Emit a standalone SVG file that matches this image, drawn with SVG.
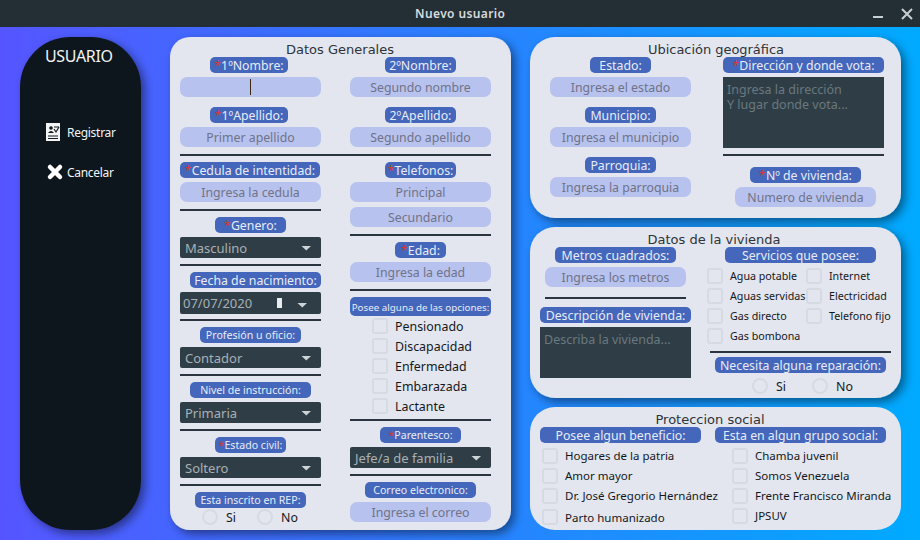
<svg xmlns="http://www.w3.org/2000/svg" width="920" height="540" viewBox="0 0 920 540">
<style>
text{font-family:"Noto Sans","Liberation Sans",sans-serif;font-size:13px}
.lb{fill:#4466bb}
.lt{fill:#e8ecf8;text-anchor:middle;font-size:12.3px}
.ls{fill:#e8ecf8;text-anchor:middle;font-size:10.6px}
.in{fill:#b8c2ee}
.ph{fill:#6f7388;text-anchor:middle;font-size:12.3px}
.sel{fill:#2f3e46}
.st{fill:#a9b0b5;font-size:13px}
.ln{stroke:#2b3540;stroke-width:2}
.cb{fill:none;stroke:#d5dae3;stroke-width:2}
.ct{fill:#14181c;font-size:12.4px}
.c2{fill:#14181c;font-size:11.5px}
.cs{fill:#14181c;font-size:10.7px}
.ttl{fill:#2e3338;text-anchor:middle;font-family:"DejaVu Sans",sans-serif;font-size:13px}
.card{fill:#e3e6ef}
.ar{fill:#cdd3d6}
.star{fill:#d9382f}
.tph{fill:#6a787f;font-size:12.5px}
</style>
<defs>
<linearGradient id="bg" x1="0" y1="0" x2="1" y2="0"><stop offset="0" stop-color="#5555ff"/><stop offset="1" stop-color="#00aaff"/></linearGradient>
<filter id="sh" x="-20%" y="-20%" width="140%" height="140%"><feDropShadow dx="4" dy="4" stdDeviation="5" flood-color="#000" flood-opacity=".45"/></filter>
<path id="tri" d="M0 0h9.500l-4.750 4.500z" class="ar"/>
</defs>
<rect width="920" height="540" fill="url(#bg)"/>
<rect width="920" height="27" fill="#242e35"/>
<text x="460" y="18" text-anchor="middle" fill="#d6dbde" style="font-size:12px;font-weight:600" textLength="90">Nuevo usuario</text>
<path d="M873 17h10" stroke="#c8cfd3" stroke-width="2"/>
<path d="M902 9l10 10M912 9l-10 10" stroke="#c8cfd3" stroke-width="2"/>

<g id="sidebar">
<rect x="20" y="37" width="121" height="493" rx="50" ry="50" fill="#11191e" filter="url(#sh)"/>
<text x="79" y="62" text-anchor="middle" fill="#f2f4f6" style="font-size:16px" textLength="68">USUARIO</text>
<g id="registrar">
<path d="M46 123h14v18h-14z" fill="#f4f4f4"/>
<circle cx="51" cy="128" r="1.800" fill="#11191e"/><path d="M48 133q3-4 6 0z" fill="#11191e"/>
<path d="M54 127h5M48 136h10M48 138.500h10" stroke="#11191e"/><path d="M54 129l2 3 3-5" stroke="#11191e" fill="none" stroke-width="1.200"/>
<text x="67" y="137" fill="#f2f4f6" style="font-size:12px" textLength="49">Registrar</text>
</g>
<g id="cancelar">
<path d="M50 167l10 10M60 167l-10 10" stroke="#fff" stroke-width="4.500" stroke-linecap="round"/>
<text x="67" y="177" fill="#f2f4f6" style="font-size:12px" textLength="47">Cancelar</text>
</g>
</g>

<g id="datos-generales">
<rect class="card" x="170" y="37" width="341" height="493" rx="20" filter="url(#sh)"/>
<text class="ttl" x="340" y="54" textLength="108">Datos Generales</text>
<rect class="lb" x="210" y="57" width="78" height="16" rx="5"/><text class="lt" x="249" y="70"><tspan class="star">*</tspan>1ºNombre:</text>
<rect class="in" x="180" y="77" width="141" height="20" rx="7"/><path d="M250.500 79v16" stroke="#3a2a10"/>
<rect class="lb" x="385" y="57" width="71" height="16" rx="5"/><text class="lt" x="420.500" y="70">2ºNombre:</text>
<rect class="in" x="350" y="77" width="141" height="20" rx="7"/><text class="ph" x="420.500" y="92">Segundo nombre</text>
<rect class="lb" x="210" y="107" width="78" height="16" rx="5"/><text class="lt" x="249" y="120"><tspan class="star">*</tspan>1ºApellido:</text>
<rect class="in" x="180" y="127" width="141" height="20" rx="7"/><text class="ph" x="250.500" y="142">Primer apellido</text>
<rect class="lb" x="385" y="107" width="71" height="16" rx="5"/><text class="lt" x="420.500" y="120">2ºApellido:</text>
<rect class="in" x="350" y="127" width="141" height="20" rx="7"/><text class="ph" x="420.500" y="142">Segundo apellido</text>
<path class="ln" d="M180 155h311"/>
<rect class="lb" x="180" y="162" width="140" height="16" rx="5"/><text class="lt" x="250" y="175"><tspan class="star">*</tspan>Cedula de intentidad:</text>
<rect class="in" x="180" y="182" width="141" height="20" rx="7"/><text class="ph" x="250.500" y="197">Ingresa la cedula</text>
<path class="ln" d="M180 210h141"/>
<rect class="lb" x="215" y="217" width="71" height="16" rx="5"/><text class="lt" x="250.500" y="230"><tspan class="star">*</tspan>Genero:</text>
<rect class="sel" x="180" y="237" width="141" height="21" rx="2"/><text class="st" x="185" y="253">Masculino</text><use href="#tri" x="301.500" y="246"/>
<path class="ln" d="M180 265h141"/>
<rect class="lb" x="190" y="272" width="131" height="16" rx="5"/><text class="lt" x="255.500" y="285">Fecha de nacimiento:</text>
<rect class="sel" x="180" y="292" width="141" height="22" rx="2"/><text class="st" x="183" y="308">07/07/2020</text><rect x="277" y="298" width="5" height="10" fill="#e8ecf0"/><use href="#tri" x="297.500" y="303"/>
<path class="ln" d="M180 320h141"/>
<rect class="lb" x="200" y="327" width="101" height="16" rx="5"/><text class="ls" x="250.500" y="339">Profesión u oficio:</text>
<rect class="sel" x="180" y="347" width="141" height="21" rx="2"/><text class="st" x="185" y="363">Contador</text><use href="#tri" x="301.500" y="356"/>
<path class="ln" d="M180 375h141"/>
<rect class="lb" x="190" y="382" width="121" height="16" rx="5"/><text class="ls" x="250.500" y="394">Nivel de instrucción:</text>
<rect class="sel" x="180" y="402" width="141" height="21" rx="2"/><text class="st" x="185" y="418">Primaria</text><use href="#tri" x="301.500" y="411"/>
<path class="ln" d="M180 430h141"/>
<rect class="lb" x="215" y="437" width="71" height="16" rx="5"/><text class="ls" x="250.500" y="449"><tspan class="star">*</tspan>Estado civil:</text>
<rect class="sel" x="180" y="457" width="141" height="21" rx="2"/><text class="st" x="185" y="473">Soltero</text><use href="#tri" x="301.500" y="466"/>
<path class="ln" d="M180 485h141"/>
<rect class="lb" x="195" y="492" width="111" height="16" rx="5"/><text class="ls" x="250.500" y="504">Esta inscrito en REP:</text>
<circle class="cb" cx="210" cy="517" r="7"/><text class="ct" x="226" y="522">Si</text>
<circle class="cb" cx="265" cy="517" r="7"/><text class="ct" x="281" y="522">No</text>

<rect class="lb" x="385" y="162" width="71" height="16" rx="5"/><text class="lt" x="420.500" y="175"><tspan class="star">*</tspan>Telefonos:</text>
<rect class="in" x="350" y="182" width="141" height="20" rx="7"/><text class="ph" x="420.500" y="197">Principal</text>
<rect class="in" x="350" y="207" width="141" height="20" rx="7"/><text class="ph" x="420.500" y="222">Secundario</text>
<path class="ln" d="M350 235h141"/>
<rect class="lb" x="395" y="242" width="51" height="16" rx="5"/><text class="lt" x="420.500" y="255"><tspan class="star">*</tspan>Edad:</text>
<rect class="in" x="350" y="262" width="141" height="20" rx="7"/><text class="ph" x="420.500" y="277">Ingresa la edad</text>
<path class="ln" d="M350 290h141"/>
<rect class="lb" x="350" y="297" width="141" height="19" rx="5"/><text class="ls" x="420.500" y="311" style="font-size:9.800px">Posee alguna de las opciones:</text>
<rect class="cb" x="373" y="319" width="14" height="14" rx="2"/><text class="ct" x="395" y="331">Pensionado</text>
<rect class="cb" x="373" y="339" width="14" height="14" rx="2"/><text class="ct" x="395" y="351">Discapacidad</text>
<rect class="cb" x="373" y="359" width="14" height="14" rx="2"/><text class="ct" x="395" y="371">Enfermedad</text>
<rect class="cb" x="373" y="379" width="14" height="14" rx="2"/><text class="ct" x="395" y="391">Embarazada</text>
<rect class="cb" x="373" y="399" width="14" height="14" rx="2"/><text class="ct" x="395" y="411">Lactante</text>
<path class="ln" d="M350 420h141"/>
<rect class="lb" x="380" y="427" width="81" height="16" rx="5"/><text class="ls" x="420.500" y="439"><tspan class="star">*</tspan>Parentesco:</text>
<rect class="sel" x="350" y="447" width="141" height="21" rx="2"/><text class="st" x="355" y="463">Jefe/a de familia</text><use href="#tri" x="471.500" y="456"/>
<path class="ln" d="M350 475h141"/>
<rect class="lb" x="365" y="482" width="111" height="16" rx="5"/><text class="ls" x="420.500" y="494">Correo electronico:</text>
<rect class="in" x="350" y="502" width="141" height="20" rx="7"/><text class="ph" x="420.500" y="517">Ingresa el correo</text>
</g>

<g id="ubicacion">
<rect class="card" x="530" y="37" width="371" height="181" rx="25" filter="url(#sh)"/>
<text class="ttl" x="716" y="54" textLength="136">Ubicación geográfica</text>
<rect class="lb" x="590" y="57" width="61" height="16" rx="5"/><text class="lt" x="620.500" y="70">Estado:</text>
<rect class="in" x="550" y="77" width="141" height="20" rx="7"/><text class="ph" x="620.500" y="92">Ingresa el estado</text>
<rect class="lb" x="585" y="107" width="71" height="16" rx="5"/><text class="lt" x="620.500" y="120">Municipio:</text>
<rect class="in" x="550" y="127" width="141" height="20" rx="7"/><text class="ph" x="620.500" y="142">Ingresa el municipio</text>
<rect class="lb" x="585" y="157" width="71" height="16" rx="5"/><text class="lt" x="620.500" y="170">Parroquia:</text>
<rect class="in" x="550" y="177" width="141" height="20" rx="7"/><text class="ph" x="620.500" y="192">Ingresa la parroquia</text>
<rect class="lb" x="723" y="57" width="161" height="16" rx="5"/><text class="lt" x="803.500" y="70"><tspan class="star">*</tspan>Dirección y donde vota:</text>
<rect class="sel" x="723" y="77" width="161" height="71"/>
<text class="tph"><tspan x="727" y="94">Ingresa la dirección</tspan><tspan x="727" y="109">Y lugar donde vota...</tspan></text>
<path class="ln" d="M723 155h161"/>
<rect class="lb" x="750" y="167" width="111" height="16" rx="5"/><text class="lt" x="805.500" y="180"><tspan class="star">*</tspan>Nº de vivienda:</text>
<rect class="in" x="735" y="187" width="141" height="20" rx="7"/><text class="ph" x="805.500" y="202">Numero de vivienda</text>
</g>

<g id="vivienda">
<rect class="card" x="530" y="227" width="371" height="171" rx="25" filter="url(#sh)"/>
<text class="ttl" x="714" y="244" textLength="133">Datos de la vivienda</text>
<rect class="lb" x="555" y="247" width="121" height="16" rx="5"/><text class="lt" x="615.500" y="260">Metros cuadrados:</text>
<rect class="in" x="545" y="267" width="141" height="20" rx="7"/><text class="ph" x="615.500" y="282">Ingresa los metros</text>
<path class="ln" d="M545 298h141"/>
<rect class="lb" x="540" y="307" width="151" height="16" rx="5"/><text class="lt" x="615.500" y="320">Descripción de vivienda:</text>
<rect class="sel" x="540" y="327" width="151" height="51"/><text class="tph" x="544" y="344">Describa la vivienda...</text>
<rect class="lb" x="725" y="247" width="151" height="16" rx="5"/><text class="lt" x="800.500" y="260">Servicios que posee:</text>
<rect class="cb" x="708" y="269" width="14" height="14" rx="2"/><text class="cs" x="730" y="280">Agua potable</text>
<rect class="cb" x="708" y="289" width="14" height="14" rx="2"/><text class="cs" x="730" y="300">Aguas servidas</text>
<rect class="cb" x="708" y="309" width="14" height="14" rx="2"/><text class="cs" x="730" y="320">Gas directo</text>
<rect class="cb" x="708" y="329" width="14" height="14" rx="2"/><text class="cs" x="730" y="340">Gas bombona</text>
<rect class="cb" x="807" y="269" width="14" height="14" rx="2"/><text class="cs" x="829" y="280">Internet</text>
<rect class="cb" x="807" y="289" width="14" height="14" rx="2"/><text class="cs" x="829" y="300">Electricidad</text>
<rect class="cb" x="807" y="309" width="14" height="14" rx="2"/><text class="cs" x="829" y="320">Telefono fijo</text>
<path class="ln" d="M710 352h181"/>
<rect class="lb" x="715" y="357" width="171" height="16" rx="5"/><text class="lt" x="800.500" y="370">Necesita alguna reparación:</text>
<circle class="cb" cx="760" cy="386" r="7"/><text class="ct" x="776" y="391">Si</text>
<circle class="cb" cx="820" cy="386" r="7"/><text class="ct" x="836" y="391">No</text>
</g>

<g id="proteccion">
<rect class="card" x="530" y="407" width="371" height="123" rx="25"/>
<text class="ttl" x="710" y="424" textLength="109">Proteccion social</text>
<rect class="lb" x="540" y="427" width="161" height="16" rx="5"/><text class="lt" x="620.500" y="440">Posee algun beneficio:</text>
<rect class="lb" x="715" y="427" width="171" height="16" rx="5"/><text class="lt" x="800.500" y="440">Esta en algun grupo social:</text>
<rect class="cb" x="543" y="449" width="14" height="14" rx="2"/><text class="c2" x="565" y="460">Hogares de la patria</text>
<rect class="cb" x="543" y="469" width="14" height="14" rx="2"/><text class="c2" x="565" y="480">Amor mayor</text>
<rect class="cb" x="543" y="489" width="14" height="14" rx="2"/><text class="c2" x="565" y="500">Dr. José Gregorio Hernández</text>
<rect class="cb" x="543" y="510" width="14" height="14" rx="2"/><text class="c2" x="565" y="522">Parto humanizado</text>
<rect class="cb" x="733" y="449" width="14" height="14" rx="2"/><text class="c2" x="755" y="460">Chamba juvenil</text>
<rect class="cb" x="733" y="469" width="14" height="14" rx="2"/><text class="c2" x="755" y="480">Somos Venezuela</text>
<rect class="cb" x="733" y="489" width="14" height="14" rx="2"/><text class="c2" x="755" y="500">Frente Francisco Miranda</text>
<rect class="cb" x="733" y="509" width="14" height="14" rx="2"/><text class="c2" x="755" y="520">JPSUV</text>
</g>
</svg>
